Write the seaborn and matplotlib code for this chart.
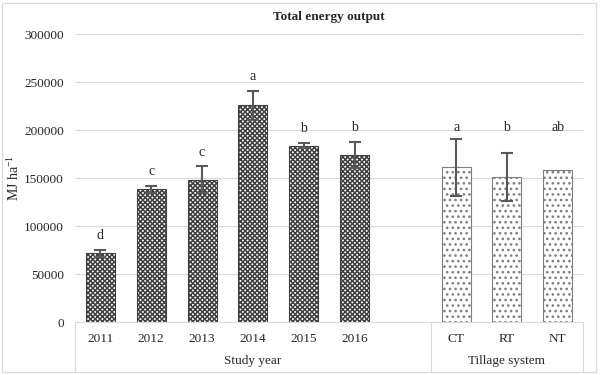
#%%
import matplotlib
matplotlib.use("Agg")
import matplotlib.pyplot as plt
import matplotlib.transforms as mtransforms
from matplotlib.patches import Rectangle
import seaborn as sns
import pandas as pd

#%% data
years = ["2011", "2012", "2013", "2014", "2015", "2016"]
year_mean = [71500, 138200, 148000, 225700, 183700, 174000]
year_err = [4000, 3500, 14000, 15000, 2500, 13500]
year_letters = ["d", "c", "c", "a", "b", "b"]

tillage = ["CT", "RT", "NT"]
tillage_mean = [161000, 151000, 158500]
tillage_err = [29500, 25000, 0]
tillage_letters = ["a", "b", "ab"]

groups = ["Study year", "Tillage system"]

#%%
sns.set_style("white")
plt.rcParams["font.family"] = ["Liberation Serif", "DejaVu Serif"]
plt.rcParams["mathtext.default"] = "regular"
plt.rcParams["hatch.linewidth"] = 1.1

df = pd.DataFrame({
    "cat": years + tillage,
    "value": year_mean + tillage_mean,
    "err": year_err + tillage_err,
    "letter": year_letters + tillage_letters,
    "group": [groups[0]] * len(years) + [groups[1]] * len(tillage),
})
order = years + [" "] + tillage
fs = 9.5

fig = plt.figure(figsize=(6, 3.75), dpi=100)
ax = fig.add_axes([0.125, 0.1413, 0.847, 0.768])

sns.barplot(data=df, x="cat", y="value", hue="group", order=order,
            hue_order=groups, dodge=False, width=0.57, legend=False,
            palette=["white", "white"], ax=ax, zorder=2)

styles = {groups[0]: ("#404040", "xxxxxxx", 0.8), groups[1]: ("#7f7f7f", "...", 0.8)}
for cont, g in zip(ax.containers, groups):
    ec, hatch, lw = styles[g]
    for bar in cont:
        bar.set_edgecolor(ec)
        bar.set_hatch(hatch)
        bar.set_linewidth(lw)

pos = [order.index(c) for c in df["cat"]]
mask = df["err"] > 0
ax.errorbar([p for p, m in zip(pos, mask) if m], df.loc[mask, "value"],
            yerr=df.loc[mask, "err"], fmt="none", ecolor="#595959",
            elinewidth=1.5, capsize=4.5, capthick=1.5, zorder=3)

# significance letters
tops = df["value"] + df["err"]
till_level = tops[df["group"] == groups[1]].max() + 12000
for p, top, letter, g in zip(pos, tops, df["letter"], df["group"]):
    y = top + 15000 if g == groups[0] else till_level
    ax.text(p, y, letter, ha="center", va="center", fontsize=10)

ax.set_ylim(0, 300000)
ax.set_xlim(-0.5, len(order) - 0.5)
ax.set_yticks(range(0, 300001, 50000))
ax.tick_params(axis="y", length=0, labelsize=fs, pad=8)
ax.tick_params(axis="x", length=0, labelsize=fs, pad=8)
ax.set_xlabel("")
ax.set_ylabel("MJ ha$^{-1}$", fontsize=10)
ax.yaxis.set_label_coords(-0.105, 0.5)
ax.yaxis.grid(True, color="#d9d9d9", lw=0.8, zorder=0)
ax.set_axisbelow(True)
for s in ["left", "right", "top"]:
    ax.spines[s].set_visible(False)
ax.spines["bottom"].set_color("#d9d9d9")
ax.spines["bottom"].set_linewidth(0.8)

# multi-level category axis
trans = mtransforms.blended_transform_factory(ax.transData, ax.transAxes)
n_y = len(years) + 1
for xline in [-0.5, n_y - 0.5, len(order) - 0.5]:
    ax.plot([xline, xline], [0, -0.17], color="#d9d9d9", lw=0.8,
            transform=trans, clip_on=False)
ax.text((n_y - 1) / 2, -0.135, groups[0], transform=trans, ha="center",
        va="center", fontsize=fs)
ax.text(n_y + (len(tillage) - 1) / 2, -0.135, groups[1], transform=trans,
        ha="center", va="center", fontsize=fs)

ax.set_title("Total energy output", fontsize=fs, fontweight="bold", pad=10)

fig.patches.append(Rectangle((0.004, 0.008), 0.99, 0.985, transform=fig.transFigure,
                             fill=False, edgecolor="#d9d9d9", lw=0.8))

plt.savefig("out.png", dpi=100)
